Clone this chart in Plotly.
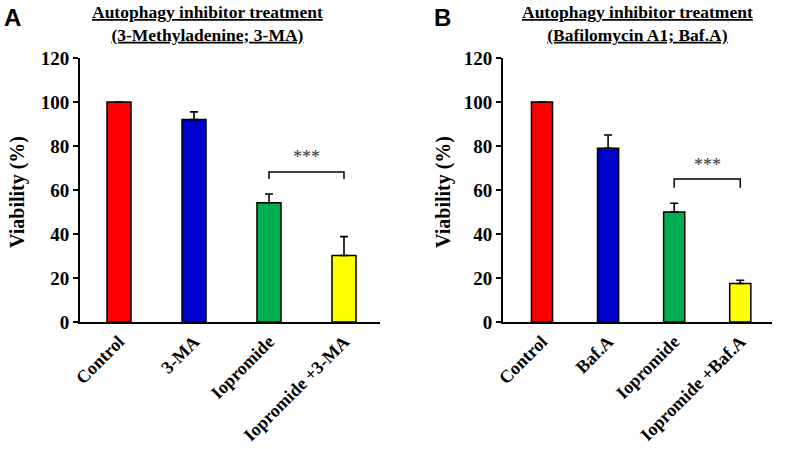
import plotly.graph_objects as go

# ---- data ----
cats_a = ["Control", "3-MA", "Iopromide", "Iopromide +3-MA"]
vals_a = [100, 92, 54.2, 30.2]
err_a = [0, 3.5, 4.0, 8.6]

cats_b = ["Control", "Baf.A", "Iopromide", "Iopromide +Baf.A"]
vals_b = [100, 79, 50, 17.5]
err_b = [0, 6.0, 4.0, 1.5]

colors = ["#ff0000", "#0000cc", "#00b050", "#ffff00"]
y_ticks = [0, 20, 40, 60, 80, 100, 120]

bracket_a = {"x": [2, 2, 3, 3], "y": [65, 68.2, 68.2, 65], "star_y": 75}
bracket_b = {"x": [2, 2, 3, 3], "y": [61, 65, 65, 61], "star_y": 71.5}

W, H = 789, 449
SERIF = "Liberation Serif, Times New Roman, serif"
SANS = "Liberation Sans, Arial, sans-serif"

fig = go.Figure()

def add_panel(cats, vals, errs, br, xa, ya):
    fig.add_trace(go.Bar(
        x=list(range(len(cats))), y=vals, width=0.32,
        marker=dict(color=colors, line=dict(color="black", width=1.5)),
        error_y=dict(type="data", symmetric=False, array=errs,
                     arrayminus=[0] * len(errs), color="black",
                     thickness=1.6, width=4),
        xaxis=xa, yaxis=ya, showlegend=False, hoverinfo="skip"))
    fig.add_trace(go.Scatter(
        x=br["x"], y=br["y"], mode="lines",
        line=dict(color="black", width=1.5),
        xaxis=xa, yaxis=ya, showlegend=False, hoverinfo="skip"))
    fig.add_annotation(x=(br["x"][0] + br["x"][-1]) / 2, y=br["star_y"],
                       xref=xa, yref=ya, text="***", showarrow=False,
                       font=dict(family=SERIF, size=18, color="#333333"))

add_panel(cats_a, vals_a, err_a, bracket_a, "x", "y")
add_panel(cats_b, vals_b, err_b, bracket_b, "x2", "y2")

y_top = 1 - 58 / H
y_bot = 1 - 322 / H

xcommon = dict(showline=True, linecolor="black", linewidth=2, ticks="",
               showgrid=False, zeroline=False, tickangle=-45, automargin=False,
               tickfont=dict(family=SERIF, size=18, color="black"))
ycommon = dict(showline=True, linecolor="black", linewidth=2, ticks="outside",
               ticklen=5, tickwidth=2, tickcolor="black", range=[0, 120],
               tickvals=y_ticks, showgrid=False, zeroline=False, automargin=False,
               tickfont=dict(family=SERIF, size=19, color="black"))

fig.update_layout(
    width=W, height=H, margin=dict(l=0, r=0, t=0, b=0, autoexpand=False),
    plot_bgcolor="white", paper_bgcolor="white",
    xaxis=dict(xcommon, domain=[80 / W, 380 / W], range=[-0.52, 3.48],
               tickvals=list(range(4)),
               ticktext=[f"<b>{c}</b>" for c in cats_a], anchor="y"),
    yaxis=dict(ycommon, domain=[y_bot, y_top], anchor="x",
               ticktext=[f"<b>{t}</b>" for t in y_ticks]),
    xaxis2=dict(xcommon, domain=[503 / W, 772 / W], range=[-0.59, 3.48],
                tickvals=list(range(4)),
                ticktext=[f"<b>{c}</b>" for c in cats_b], anchor="y2"),
    yaxis2=dict(ycommon, domain=[y_bot, y_top], anchor="x2",
                ticktext=[f"<b>{t}</b>" for t in y_ticks]),
)

# y-axis titles
for xpx in (18, 444):
    fig.add_annotation(x=xpx / W, y=1 - 192 / H, xref="paper", yref="paper",
                       xanchor="center", yanchor="middle", showarrow=False,
                       textangle=-90, text="<b>Viability (%)</b>",
                       font=dict(family=SERIF, size=20, color="black"))

# panel titles and letters
fig.add_annotation(x=207 / W, y=1 - 0 / H, xref="paper", yref="paper",
                   xanchor="center", yanchor="top", showarrow=False,
                   text="<b><u>Autophagy inhibitor treatment</u></b><br><b><u>(3-Methyladenine; 3-MA)</u></b>",
                   font=dict(family=SERIF, size=17.5, color="black"))
fig.add_annotation(x=637 / W, y=1 - 0 / H, xref="paper", yref="paper",
                   xanchor="center", yanchor="top", showarrow=False,
                   text="<b><u>Autophagy inhibitor treatment</u></b><br><b><u>(Bafilomycin A1; Baf.A)</u></b>",
                   font=dict(family=SERIF, size=17.5, color="black"))
fig.add_annotation(x=2 / W, y=1 - 2 / H, xref="paper", yref="paper",
                   xanchor="left", yanchor="top", showarrow=False,
                   text="<b>A</b>",
                   font=dict(family=SANS, size=24, color="black"))
fig.add_annotation(x=432 / W, y=1 - 2 / H, xref="paper", yref="paper",
                   xanchor="left", yanchor="top", showarrow=False,
                   text="<b>B</b>",
                   font=dict(family=SANS, size=24, color="black"))

fig.write_html("out.html", config={"displayModeBar": False},
               post_script="document.body.style.margin='0';document.body.style.overflow='hidden';")
